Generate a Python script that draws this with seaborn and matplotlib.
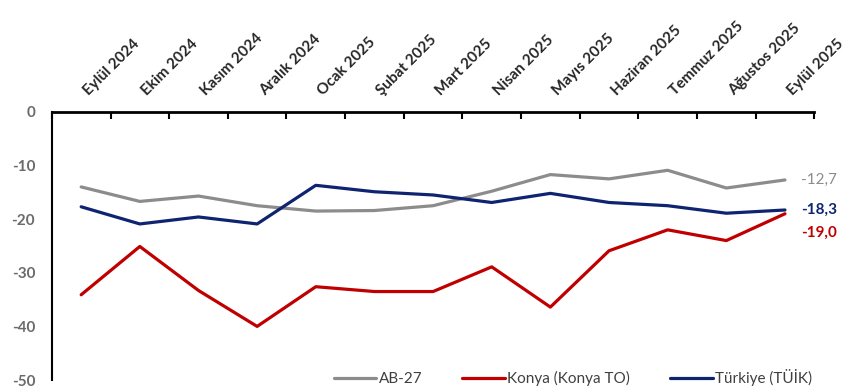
import pandas as pd
import matplotlib.pyplot as plt
import seaborn as sns

# aylar ve seriler
aylar = ["Eylül 2024", "Ekim 2024", "Kasım 2024", "Aralık 2024", "Ocak 2025",
         "Şubat 2025", "Mart 2025", "Nisan 2025", "Mayıs 2025", "Haziran 2025",
         "Temmuz 2025", "Ağustos 2025", "Eylül 2025"]
ab27 = [-14.0, -16.7, -15.7, -17.5, -18.5, -18.4, -17.5, -14.8, -11.7, -12.5, -10.9, -14.2, -12.7]
konya = [-34.1, -25.1, -33.3, -40.0, -32.6, -33.5, -33.5, -28.9, -36.4, -25.9, -22.0, -24.0, -19.0]
turkiye = [-17.7, -20.9, -19.6, -20.9, -13.7, -14.9, -15.5, -16.9, -15.2, -16.9, -17.5, -18.9, -18.3]

seri_adlari = ["AB-27", "Konya (Konya TO)", "Türkiye (TÜİK)"]
renkler = ["#8c8c8c", "#c00000", "#0f2470"]
son_etiketler = ["-12,7", "-18,3", "-19,0"]

sns.set_style("white")
plt.rcParams['font.family'] = ['Lato', 'DejaVu Sans']

rows = []
for ad, vals in zip(seri_adlari, [ab27, konya, turkiye]):
    for i, v in enumerate(vals):
        rows.append({"x": i, "ay": aylar[i], "deger": v, "seri": ad})
df = pd.DataFrame(rows)

fig = plt.figure(figsize=(8.5, 3.91), dpi=100)
ax = fig.add_axes([0.061, 0.028, 0.897, 0.686])

sns.lineplot(data=df, x="x", y="deger", hue="seri", hue_order=seri_adlari,
             palette=renkler, linewidth=2.3, ax=ax, sort=False)

ax.set_ylim(-50, 0)
ax.set_xlim(-0.5, len(aylar) - 0.5)
ax.set_yticks(range(-50, 1, 10))
ax.set_yticklabels([str(t) for t in range(-50, 1, 10)], color="#6b6b6b",
                   fontsize=11, fontweight="bold")
ax.set_xlabel("")
ax.set_ylabel("")

# x ekseni üstte, tick'ler kategori sınırlarında
ax.xaxis.tick_top()
ax.set_xticks([i - 0.5 for i in range(len(aylar) + 1)])
ax.set_xticklabels([])
ax.tick_params(axis="x", which="major", direction="in", length=5, width=1.5, color="black")
ax.tick_params(axis="y", direction="out", length=4, width=1.2, color="black", pad=8)

# ay etiketleri: kategori merkezinden başlayıp 45 derece yukarı
for i, ay in enumerate(aylar):
    ax.annotate(ay, xy=(i, 1), xycoords=("data", "axes fraction"),
                xytext=(7, 10), textcoords="offset points", rotation=45,
                ha="left", va="bottom", rotation_mode="anchor",
                fontweight="bold", fontsize=11, annotation_clip=False)

for s in ["bottom", "right"]:
    ax.spines[s].set_visible(False)
ax.spines["top"].set_linewidth(2)
ax.spines["left"].set_linewidth(1.5)
ax.spines["top"].set_color("black")
ax.spines["left"].set_color("black")

son = len(aylar) - 1
for vals, renk, etiket, off, agirlik in zip([ab27, turkiye, konya], [renkler[0], renkler[2], renkler[1]],
                                            son_etiketler, [0, 0, -3.5], ["normal", "bold", "bold"]):
    ax.text(son + 0.28, vals[son] + off, etiket, color=renk, fontsize=11,
            fontweight=agirlik, va="center", ha="left")

leg = ax.legend(loc="lower right", ncol=3, frameon=False, bbox_to_anchor=(1.015, -0.075),
                fontsize=11, handlelength=2.8, columnspacing=2.6, handletextpad=0.15)
for t in leg.get_texts():
    t.set_color("#404040")

fig.savefig("out.png", dpi=100)
